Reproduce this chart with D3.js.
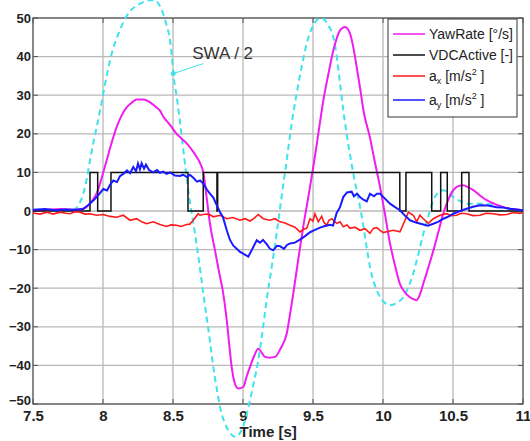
<!DOCTYPE html>
<html>
<head>
<meta charset="utf-8">
<script src="https://cdn.jsdelivr.net/npm/d3@7"></script>
<style>
  body { margin: 0; background: #fff; }
  svg { font-family: Arial, "Liberation Sans", sans-serif; display: block; }
</style>
</head>
<body>
<script>
// tick values
const xTicks = [7.5, 8, 8.5, 9, 9.5, 10, 10.5, 11];
const yTicks = [-50, -40, -30, -20, -10, 0, 10, 20, 30, 40, 50];

// yaw rate [deg/s]
const yawT = [7.5, 7.6, 7.7, 7.8, 7.85, 7.88, 7.92, 7.955, 7.99, 8.026, 8.06, 8.098, 8.13, 8.17, 8.21, 8.24, 8.29, 8.33, 8.38, 8.407, 8.43, 8.479, 8.526, 8.56, 8.598, 8.635, 8.669, 8.695, 8.716, 8.74, 8.764, 8.8, 8.83, 8.855, 8.884, 8.9, 8.919, 8.94, 8.966, 9.002, 9.025, 9.05, 9.08, 9.109, 9.13, 9.157, 9.19, 9.229, 9.27, 9.312, 9.335, 9.359, 9.395, 9.43, 9.466, 9.502, 9.54, 9.574, 9.61, 9.645, 9.67, 9.693, 9.729, 9.764, 9.79, 9.812, 9.84, 9.86, 9.907, 9.94, 9.979, 10.015, 10.05, 10.085, 10.12, 10.155, 10.19, 10.24, 10.265, 10.288, 10.325, 10.36, 10.395, 10.43, 10.465, 10.502, 10.54, 10.574, 10.61, 10.645, 10.69, 10.74, 10.8, 10.86, 10.93, 11.0];
const yawV = [0, 0.3, 0.5, 0.3, 0.5, 1.0, 2.5, 4.6, 8.5, 13.1, 17.5, 21.8, 24.5, 26.9, 28.2, 28.9, 28.9, 28.3, 26.9, 26.0, 24.5, 22.3, 20.0, 18.8, 17.5, 15.8, 14.0, 12.3, 10.1, 3.6, -3.3, -10.2, -16.0, -20.5, -28.3, -34.0, -40.4, -44.5, -46.0, -45.6, -43.0, -40.4, -37.5, -35.7, -36.5, -37.8, -38.0, -37.8, -35.5, -31.8, -27.0, -21.4, -12.5, -4.1, 3.5, 11.4, 20.5, 28.7, 35.5, 41.6, 44.8, 46.8, 47.7, 46.0, 42.0, 37.3, 31.0, 26.1, 19.0, 13.0, 6.2, -1.0, -8.4, -14.0, -18.8, -21.0, -22.3, -23.1, -21.5, -18.8, -14.5, -10.2, -5.5, -0.7, 2.8, 5.4, 6.5, 6.7, 6.1, 5.4, 4.1, 2.8, 1.8, 1.0, 0.5, 0.2];

// VDC active flag (step)
const vdcT = [7.5, 7.907, 7.962, 8.057, 8.607, 8.716, 8.814, 8.819, 10.12, 10.164, 10.348, 10.412, 10.459, 10.562, 10.614, 11.0];
const vdcV = [0, 10, 0, 10, 0, 10, 0, 10, 0, 10, 0, 10, 0, 10, 0, 0];

// longitudinal acceleration a_x
const axT = [7.5, 7.55, 7.6, 7.643, 7.693, 7.736, 7.764, 7.8, 7.836, 7.871, 7.907, 7.955, 8.002, 8.05, 8.098, 8.145, 8.193, 8.241, 8.276, 8.312, 8.359, 8.407, 8.455, 8.486, 8.526, 8.557, 8.598, 8.62, 8.645, 8.68, 8.693, 8.736, 8.764, 8.788, 8.836, 8.884, 8.929, 8.979, 9.014, 9.05, 9.079, 9.109, 9.145, 9.193, 9.229, 9.264, 9.3, 9.336, 9.371, 9.407, 9.429, 9.455, 9.479, 9.5, 9.514, 9.538, 9.562, 9.579, 9.598, 9.614, 9.634, 9.669, 9.693, 9.716, 9.743, 9.764, 9.8, 9.836, 9.871, 9.907, 9.931, 9.955, 9.979, 10.002, 10.026, 10.074, 10.121, 10.157, 10.181, 10.216, 10.241, 10.264, 10.288, 10.324, 10.359, 10.407, 10.455, 10.486, 10.526, 10.557, 10.598, 10.643, 10.693, 10.736, 10.788, 10.836, 10.884, 10.929, 10.979, 11.0];
const axV = [-0.5, -0.8, -0.3, -0.8, -0.3, -0.6, -0.7, -0.2, -0.3, -0.8, -0.7, -1.1, -0.9, -1.4, -1.6, -1.1, -2.4, -2.0, -2.8, -3.3, -2.8, -3.5, -4.0, -3.6, -3.7, -4.0, -3.5, -3.4, -2.4, -0.7, -1.1, -0.8, -1.0, -1.5, -1.1, -2.0, -1.7, -2.4, -2.0, -2.6, -1.9, -0.9, -2.0, -2.4, -2.0, -2.8, -3.1, -3.7, -4.2, -5.4, -4.8, -4.5, -2.0, -2.6, -0.7, -2.8, -1.4, -3.0, -3.7, -2.4, -2.0, -3.2, -2.8, -4.1, -3.6, -4.5, -4.2, -5.0, -4.6, -5.8, -4.5, -4.3, -5.0, -5.6, -5.4, -5.0, -5.4, -2.4, -0.3, -1.1, -2.8, -1.1, -2.0, -3.2, -2.0, -1.1, -0.7, -1.2, -1.1, -0.6, -0.7, -1.2, -1.1, -0.6, -0.7, -1.0, -0.9, -0.4, -0.6, -0.3];

// lateral acceleration a_y
const ayT = [7.5, 7.586, 7.657, 7.729, 7.8, 7.859, 7.893, 7.931, 7.964, 8.002, 8.029, 8.05, 8.074, 8.1, 8.121, 8.145, 8.171, 8.193, 8.216, 8.236, 8.25, 8.264, 8.276, 8.293, 8.307, 8.329, 8.359, 8.386, 8.407, 8.429, 8.455, 8.479, 8.514, 8.55, 8.571, 8.6, 8.621, 8.645, 8.671, 8.693, 8.716, 8.743, 8.764, 8.788, 8.807, 8.836, 8.857, 8.884, 8.907, 8.931, 8.955, 8.979, 9.007, 9.038, 9.064, 9.098, 9.121, 9.143, 9.169, 9.193, 9.216, 9.243, 9.264, 9.293, 9.314, 9.336, 9.371, 9.407, 9.443, 9.479, 9.514, 9.55, 9.586, 9.621, 9.643, 9.669, 9.693, 9.716, 9.743, 9.776, 9.793, 9.814, 9.836, 9.857, 9.884, 9.907, 9.936, 9.957, 9.979, 10.014, 10.05, 10.086, 10.121, 10.157, 10.193, 10.236, 10.288, 10.321, 10.359, 10.393, 10.431, 10.464, 10.502, 10.55, 10.598, 10.643, 10.693, 10.75, 10.812, 10.857, 10.907, 10.95, 11.0];
const ayV = [0.3, 0.5, 0.2, 0.4, 0.3, 0.5, 1.5, 2.7, 4.0, 5.7, 5.3, 6.8, 7.9, 7.5, 9.0, 9.6, 10.5, 9.8, 11.4, 10.3, 12.3, 10.8, 12.4, 11.0, 12.0, 10.6, 10.0, 10.6, 9.9, 10.2, 9.6, 10.0, 9.2, 9.1, 9.4, 8.8, 9.4, 8.6, 7.6, 7.9, 7.1, 5.5, 4.5, 3.5, 1.9, -0.3, -1.6, -5.0, -7.5, -9.0, -9.8, -10.6, -11.2, -11.8, -10.0, -7.6, -8.2, -7.5, -8.6, -9.8, -10.2, -9.0, -9.1, -9.8, -8.8, -8.4, -8.2, -7.4, -6.5, -5.5, -4.9, -4.3, -3.9, -3.6, -3.8, -0.5, 1.0, 3.6, 4.8, 5.0, 3.8, 4.5, 3.6, 3.0, 2.5, 4.5, 3.8, 4.5, 4.5, 3.2, 1.9, 1.0, 0.2, -1.2, -2.4, -3.0, -3.5, -3.8, -3.3, -2.8, -2.0, -1.5, -0.7, 0.0, 0.6, 1.1, 1.5, 1.4, 1.0, 0.9, 0.6, 0.4, 0.2];

// steering wheel angle / 2
const swaT = [7.5, 7.7, 7.78, 7.81, 7.835, 7.86, 7.885, 7.907, 7.93, 7.955, 7.98, 8.002, 8.025, 8.05, 8.085, 8.12, 8.155, 8.19, 8.24, 8.288, 8.33, 8.37, 8.4, 8.43, 8.455, 8.479, 8.492, 8.502, 8.525, 8.55, 8.575, 8.598, 8.62, 8.645, 8.67, 8.693, 8.715, 8.74, 8.765, 8.788, 8.81, 8.836, 8.865, 8.895, 8.943, 8.99, 9.02, 9.05, 9.08, 9.109, 9.14, 9.169, 9.205, 9.24, 9.275, 9.312, 9.345, 9.383, 9.42, 9.455, 9.49, 9.526, 9.556, 9.586, 9.615, 9.645, 9.67, 9.693, 9.715, 9.74, 9.765, 9.788, 9.812, 9.836, 9.86, 9.883, 9.907, 9.935, 9.966, 10.005, 10.05, 10.1, 10.145, 10.18, 10.216, 10.25, 10.288, 10.325, 10.36, 10.395, 10.43, 10.465, 10.502, 10.55, 10.598, 10.69, 10.81, 10.93, 11.0];
const swaV = [0, 0, 0.2, 0.8, 2.2, 4.5, 8.5, 13.1, 17.5, 21.8, 26.2, 30.4, 34.8, 39.0, 43.5, 46.8, 49.6, 51.6, 53.2, 54.1, 54.6, 54.6, 53.5, 51.1, 48.0, 44.2, 40.0, 35.6, 30.0, 23.0, 15.5, 8.5, 2.5, -3.0, -9.0, -15.0, -21.0, -27.5, -34.0, -40.4, -45.5, -50.8, -54.5, -56.8, -58.5, -56.8, -53.5, -49.0, -44.0, -38.7, -31.0, -23.1, -14.5, -5.9, 3.5, 13.1, 22.0, 30.4, 37.5, 43.4, 47.2, 49.4, 50.0, 49.4, 47.8, 45.1, 40.0, 33.0, 26.5, 20.0, 14.5, 9.7, 5.3, 1.0, -4.0, -9.3, -14.5, -18.5, -21.4, -23.5, -24.4, -23.8, -22.3, -19.8, -16.2, -11.5, -5.9, -1.2, 2.8, 4.8, 5.4, 4.8, 3.6, 2.6, 1.9, 1.9, 1.5, 0.2, -0.5];

const swaLabel = "SWA / 2";
const swaLabelAt = 8.502; // where the pointer touches the curve

const margin = { top: 18, right: 7, bottom: 37, left: 33 };
const width = 530 - margin.left - margin.right;
const height = 441 - margin.top - margin.bottom;

const x = d3.scaleLinear().domain([7.5, 11]).range([0, width]);
const y = d3.scaleLinear().domain([-50, 50]).range([height, 0]);

const zip = (ts, vs) => ts.map((t, i) => ({ t: t, v: vs[i] }));

const svg = d3.select("body").append("svg")
  .attr("width", 530)
  .attr("height", 441)
  .append("g")
  .attr("transform", `translate(${margin.left},${margin.top})`);

// grid
svg.append("g").selectAll("line").data(xTicks).enter().append("line")
  .attr("x1", d => x(d)).attr("x2", d => x(d))
  .attr("y1", 0).attr("y2", height)
  .attr("stroke", "#b9b9b9").attr("stroke-width", 1.3);
svg.append("g").selectAll("line").data(yTicks).enter().append("line")
  .attr("x1", 0).attr("x2", width)
  .attr("y1", d => y(d)).attr("y2", d => y(d))
  .attr("stroke", "#b9b9b9").attr("stroke-width", 1.3);

// frame
svg.append("rect")
  .attr("width", width).attr("height", height)
  .attr("fill", "none").attr("stroke", "#6a6a6a").attr("stroke-width", 1.4);

// small inner tick marks on all sides
const tk = svg.append("g").attr("stroke", "#555").attr("stroke-width", 1);
xTicks.forEach(d => {
  tk.append("line").attr("x1", x(d)).attr("x2", x(d)).attr("y1", height).attr("y2", height - 5);
  tk.append("line").attr("x1", x(d)).attr("x2", x(d)).attr("y1", 0).attr("y2", 5);
});
yTicks.forEach(d => {
  tk.append("line").attr("x1", 0).attr("x2", 5).attr("y1", y(d)).attr("y2", y(d));
  tk.append("line").attr("x1", width).attr("x2", width - 5).attr("y1", y(d)).attr("y2", y(d));
});

// axis labels
const xAxis = svg.append("g")
  .attr("transform", `translate(0,${height})`)
  .call(d3.axisBottom(x).tickValues(xTicks).tickFormat(d => d).tickSize(0).tickPadding(6));
xAxis.select(".domain").remove();
xAxis.selectAll("text").attr("font-size", 15).attr("font-weight", "bold").attr("fill", "#222");

const yAxis = svg.append("g")
  .call(d3.axisLeft(y).tickValues(yTicks).tickSize(0).tickPadding(2));
yAxis.select(".domain").remove();
yAxis.selectAll("text").attr("font-size", 13).attr("font-weight", "bold").attr("fill", "#222");
// the lowest label sits a little higher, clear of the "7.5" below it
yAxis.selectAll("text").filter(d => d === -50).attr("dy", "0.05em");

svg.append("text")
  .attr("x", x(9.18)).attr("y", height + 33)
  .attr("text-anchor", "middle")
  .attr("font-size", 15).attr("font-weight", "bold").attr("fill", "#222")
  .text("Time [s]");

// lines
const smooth = d3.line().x(d => x(d.t)).y(d => y(d.v)).curve(d3.curveMonotoneX);
const raw = d3.line().x(d => x(d.t)).y(d => y(d.v));
const step = d3.line().x(d => x(d.t)).y(d => y(d.v)).curve(d3.curveStepAfter);

svg.append("path").datum(zip(swaT, swaV)).attr("d", smooth)
  .attr("fill", "none").attr("stroke", "#3fe3ea").attr("stroke-width", 2)
  .attr("stroke-dasharray", "6,4");
svg.append("path").datum(zip(yawT, yawV)).attr("d", smooth)
  .attr("fill", "none").attr("stroke", "#f01cf0").attr("stroke-width", 2);
svg.append("path").datum(zip(vdcT, vdcV)).attr("d", step)
  .attr("fill", "none").attr("stroke", "#111").attr("stroke-width", 1.5);
svg.append("path").datum(zip(axT, axV)).attr("d", raw)
  .attr("fill", "none").attr("stroke", "#ff1a1a").attr("stroke-width", 1.6);
svg.append("path").datum(zip(ayT, ayV)).attr("d", raw)
  .attr("fill", "none").attr("stroke", "#1a1aff").attr("stroke-width", 2);

// SWA / 2 annotation
const swaAt = swaV[swaT.indexOf(swaLabelAt)];
const px = x(swaLabelAt), py = y(swaAt);
svg.append("line")
  .attr("x1", px).attr("y1", py).attr("x2", px + 30).attr("y2", py - 10)
  .attr("stroke", "#3fe3ea").attr("stroke-width", 1);
svg.append("circle").attr("cx", px).attr("cy", py).attr("r", 2.5).attr("fill", "#3fe3ea");
svg.append("text")
  .attr("x", px + 19).attr("y", py - 15)
  .attr("font-size", 17).attr("fill", "#333")
  .text(swaLabel);

// legend
const legendNames = [["YawRate [°/s]"], ["VDCActive [-]"], ["a", "x", " [m/s", "2", " ]"], ["a", "y", " [m/s", "2", " ]"]];
const legendColors = ["#f01cf0", "#111", "#ff1a1a", "#1a1aff"];
const legendRowY = [15, 36, 57, 81];

const lg = svg.append("g").attr("transform", `translate(${width - 135},1)`);
lg.append("rect").attr("width", 129).attr("height", 98)
  .attr("fill", "#fff").attr("stroke", "#333").attr("stroke-width", 1);
legendNames.forEach((parts, i) => {
  lg.append("line")
    .attr("x1", 5).attr("x2", 37)
    .attr("y1", legendRowY[i]).attr("y2", legendRowY[i])
    .attr("stroke", legendColors[i]).attr("stroke-width", 1.5);
  const t = lg.append("text").attr("x", 41).attr("y", legendRowY[i] + 5)
    .attr("font-size", 14).attr("fill", "#222");
  if (parts.length === 1) {
    t.text(parts[0]);
  } else {
    t.append("tspan").text(parts[0]);
    t.append("tspan").attr("font-size", 9).attr("dy", 3).text(parts[1]);
    t.append("tspan").attr("dy", -3).text(parts[2]);
    t.append("tspan").attr("font-size", 9).attr("dy", -6).text(parts[3]);
    t.append("tspan").attr("dy", 6).text(parts[4]);
  }
});
</script>
</body>
</html>
